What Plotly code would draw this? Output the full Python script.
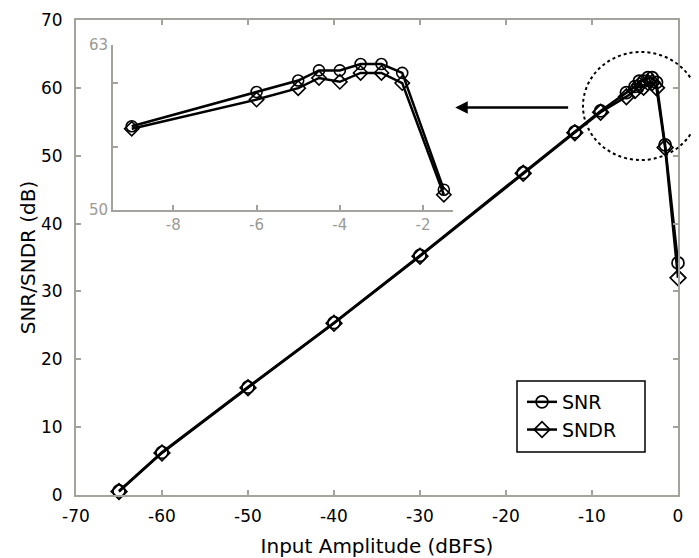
import plotly.graph_objects as go

# ---- data ----
amp = [-65, -60, -50, -40, -30, -18, -12, -9, -6, -5, -4.5, -4, -3.5, -3, -2.5, -1.5, 0]
snr = [0.6, 6.3, 15.9, 25.4, 35.3, 47.5, 53.5, 56.6, 59.3, 60.2, 61.0, 61.0, 61.5, 61.5, 60.8, 51.6, 34.2]
sndr = [0.5, 6.2, 15.8, 25.3, 35.2, 47.4, 53.4, 56.4, 58.7, 59.6, 60.4, 60.1, 60.8, 60.8, 60.0, 51.2, 32.0]
inset_start, inset_end = 7, 16

main_xticks = [-70, -60, -50, -40, -30, -20, -10, 0]
main_xticktext = ["-70", "-60", "-50", "-40", "-30", "-20", "-10", "0"]
main_yticks = [0, 10, 20, 30, 40, 50, 60, 70]
inset_xticks = [-8, -6, -4, -2]
inset_xticktext = ["-8", "-6", "-4", "-2"]
inset_yticks = [50, 55, 60, 63]
inset_yticktext = ["50", "", "", "63"]

# the page body has an 8px margin, so the figure is drawn offset by 8px
OFF = 8
W, H = 699 - OFF, 558 - OFF
ML, MR, MT, MB = 76 - OFF, 21, 20 - OFF, 63
PW, PH = W - ML - MR, H - MT - MB

def px(xpix):  # reference-image pixel -> paper fraction
    return (xpix - 76) / PW

def py(ypix):
    return (495 - ypix) / PH

AX = "#a3a39b"
FONT = "DejaVu Sans"

fig = go.Figure()
fig.add_trace(go.Scatter(x=amp, y=snr, mode="lines+markers", name="SNR",
                         line=dict(color="black", width=2.5),
                         marker=dict(symbol="circle-open", size=12, color="black", line=dict(width=1.7)),
                         cliponaxis=False))
fig.add_trace(go.Scatter(x=amp, y=sndr, mode="lines+markers", name="SNDR",
                         line=dict(color="black", width=2.5),
                         marker=dict(symbol="diamond-open", size=12, color="black", line=dict(width=1.7)),
                         cliponaxis=False))
# inset
fig.add_trace(go.Scatter(x=amp[inset_start:inset_end], y=snr[inset_start:inset_end], mode="lines+markers",
                         xaxis="x2", yaxis="y2", showlegend=False,
                         line=dict(color="black", width=2.5),
                         marker=dict(symbol="circle-open", size=11, color="black", line=dict(width=1.6)),
                         cliponaxis=False))
fig.add_trace(go.Scatter(x=amp[inset_start:inset_end], y=sndr[inset_start:inset_end], mode="lines+markers",
                         xaxis="x2", yaxis="y2", showlegend=False,
                         line=dict(color="black", width=2.5),
                         marker=dict(symbol="diamond-open", size=11, color="black", line=dict(width=1.6)),
                         cliponaxis=False))

fig.update_layout(
    width=W, height=H,
    margin=dict(l=ML, r=MR, t=MT, b=MB),
    paper_bgcolor="white", plot_bgcolor="white",
    font=dict(family=FONT, color="black", size=15),
    xaxis=dict(range=[-70, 0], tickvals=main_xticks, ticktext=main_xticktext,
               showgrid=False, zeroline=False, automargin=False,
               showline=True, linecolor=AX, linewidth=2, mirror="ticks",
               ticks="inside", ticklen=5, tickwidth=1.5, tickcolor=AX,
               ticklabelstandoff=5,
               tickfont=dict(size=17, color="black"),
               title=dict(text="Input Amplitude (dBFS)", font=dict(size=20))),
    yaxis=dict(range=[0, 70], tickvals=main_yticks, showgrid=False, zeroline=False, automargin=False,
               showline=True, linecolor=AX, linewidth=2, mirror="ticks",
               ticks="inside", ticklen=5, tickwidth=1.5, tickcolor=AX,
               ticklabelstandoff=8,
               tickfont=dict(size=17, color="black"),
               title=dict(text="SNR/SNDR (dB)", font=dict(size=20), standoff=0)),
    xaxis2=dict(domain=[px(113), px(453)], anchor="y2", range=[-9.45, -1.28],
                tickvals=inset_xticks, ticktext=inset_xticktext, showgrid=False, zeroline=False,
                showline=True, linecolor=AX, linewidth=2, automargin=False,
                ticks="inside", ticklen=5, tickwidth=1.5, tickcolor=AX,
                tickfont=dict(size=15, color="#9a9a94")),
    yaxis2=dict(domain=[py(210), py(45)], anchor="x2", range=[50, 63],
                tickvals=inset_yticks, ticktext=inset_yticktext, showgrid=False, zeroline=False,
                showline=True, linecolor=AX, linewidth=2, automargin=False,
                ticks="inside", ticklen=5, tickwidth=1.5, tickcolor=AX,
                tickfont=dict(size=15, color="#9a9a94")),
    legend=dict(x=px(522), y=py(383), xanchor="left", yanchor="top",
                bgcolor="rgba(0,0,0,0)", borderwidth=0,
                font=dict(size=19, color="black")),
    shapes=[
        dict(type="rect", xref="paper", yref="paper",
             x0=px(517), x1=px(645), y0=py(452), y1=py(381),
             fillcolor="white", line=dict(color="black", width=1.5), layer="below"),
        dict(type="circle", xref="paper", yref="paper",
             x0=px(583), x1=px(699), y0=py(160), y1=py(52),
             line=dict(color="black", width=2, dash="dot")),
    ],
    annotations=[
        dict(x=-25.9, y=57.1, ax=-12.6, ay=57.1, xref="x", yref="y", axref="x", ayref="y",
             text="", showarrow=True, arrowhead=2, arrowsize=1, arrowwidth=2.5, arrowcolor="black"),
    ],
)

fig.write_html("out.html")
